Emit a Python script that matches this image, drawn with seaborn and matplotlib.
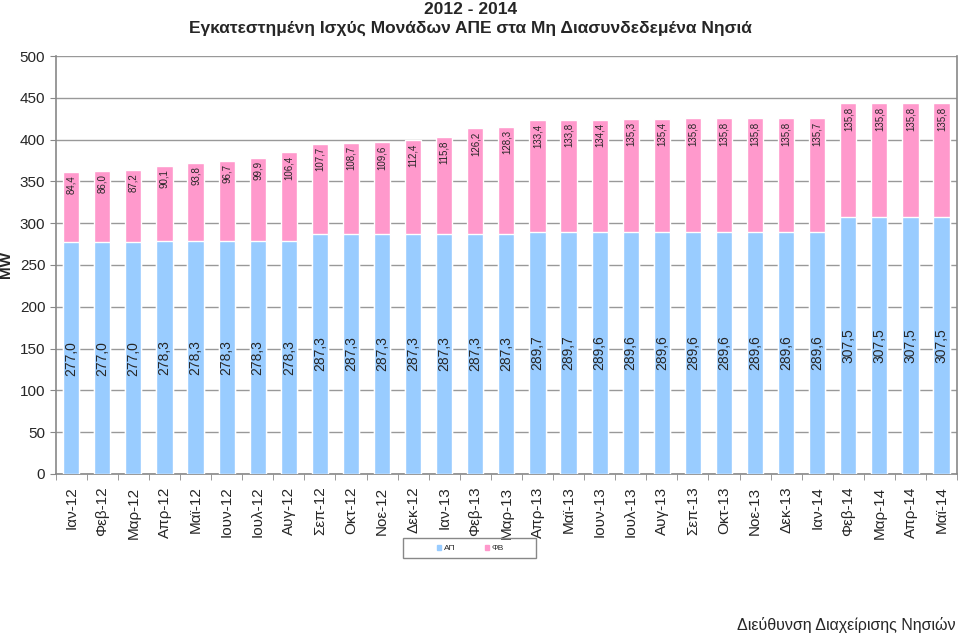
import matplotlib
matplotlib.use("Agg")
import matplotlib.pyplot as plt
import numpy as np
import pandas as pd
import seaborn as sns

months = ["Ιαν-12", "Φεβ-12", "Μαρ-12", "Απρ-12", "Μαϊ-12", "Ιουν-12", "Ιουλ-12",
          "Αυγ-12", "Σεπ-12", "Οκτ-12", "Νοε-12", "Δεκ-12", "Ιαν-13", "Φεβ-13",
          "Μαρ-13", "Απρ-13", "Μαϊ-13", "Ιουν-13", "Ιουλ-13", "Αυγ-13", "Σεπ-13",
          "Οκτ-13", "Νοε-13", "Δεκ-13", "Ιαν-14", "Φεβ-14", "Μαρ-14", "Απρ-14",
          "Μαϊ-14"]
ap = [277.0, 277.0, 277.0, 278.3, 278.3, 278.3, 278.3, 278.3, 287.3, 287.3,
      287.3, 287.3, 287.3, 287.3, 287.3, 289.7, 289.7, 289.6, 289.6, 289.6,
      289.6, 289.6, 289.6, 289.6, 289.6, 307.5, 307.5, 307.5, 307.5]
fv = [84.4, 86.0, 87.2, 90.1, 93.8, 96.7, 99.9, 106.4, 107.7, 108.7,
      109.6, 112.4, 115.8, 126.2, 128.3, 133.4, 133.8, 134.4, 135.3, 135.4,
      135.8, 135.8, 135.8, 135.8, 135.7, 135.8, 135.8, 135.8, 135.8]

BLUE = "#99CCFF"
PINK = "#FF99CC"

df = pd.DataFrame({"Μήνας": months, "ΑΠ": ap, "ΦΒ": fv})
df["Σύνολο"] = df["ΑΠ"] + df["ΦΒ"]

sns.set_style("white")
plt.rcParams["font.family"] = ["Liberation Sans", "DejaVu Sans"]

fig = plt.figure(figsize=(9.6, 6.37), dpi=100)
ax = fig.add_axes([0.058, 0.256, 0.939, 0.656])

# stacked look: total in pink, AP drawn over it in blue
sns.barplot(data=df, x="Μήνας", y="Σύνολο", color=PINK, width=0.52,
            saturation=1, ax=ax, zorder=2)
sns.barplot(data=df, x="Μήνας", y="ΑΠ", color=BLUE, width=0.52,
            saturation=1, ax=ax, zorder=3)

fmt = lambda v: f"{v:.1f}".replace(".", ",")
for i, (a, f) in enumerate(zip(ap, fv)):
    ax.text(i, a / 2, fmt(a), rotation=90, ha="center", va="center",
            fontsize=10, zorder=5)
    ax.text(i, a + f - 4, fmt(f), rotation=90, ha="center", va="top",
            fontsize=7, zorder=5)

ax.set_ylim(0, 500)
ax.set_xlim(-0.5, len(months) - 0.5)
ax.set_yticks(np.arange(0, 501, 50))
ax.yaxis.grid(True, color="#999999", linewidth=1)
ax.set_axisbelow(True)
ax.set_xlabel("")
ax.set_ylabel("MW", fontsize=11, fontweight="bold")
ax.yaxis.set_label_coords(-0.047, 0.5)
ax.tick_params(axis="y", labelsize=11, length=4, color="#888888", direction="out", left=True)
ax.set_xticks(range(len(months)))
ax.set_xticklabels(months, rotation=90, fontsize=11)
ax.set_xticks(np.arange(-0.5, len(months), 1), minor=True)
ax.tick_params(axis="x", which="major", length=0, pad=9)
ax.tick_params(axis="x", which="minor", length=4, color="#888888", direction="out", bottom=True)
for side in ["left", "bottom", "right"]:
    ax.spines[side].set_color("#888888")
    ax.spines[side].set_linewidth(1.2)
ax.spines["top"].set_visible(False)

fig.text(0.49, 0.997, "2012 - 2014", ha="center", va="top", fontsize=12.5, fontweight="bold")
fig.text(0.49, 0.967, "Εγκατεστημένη Ισχύς Μονάδων ΑΠΕ στα Μη Διασυνδεδεμένα Νησιά",
         ha="center", va="top", fontsize=12.5, fontweight="bold")

# legend with a separate, wider frame
fig.patches.append(plt.Rectangle((403 / 960, 79 / 637), 133 / 960, 20 / 637,
                                 transform=fig.transFigure, fill=False,
                                 edgecolor="#888888", linewidth=1))
handles = [plt.Rectangle((0, 0), 1, 1, color=BLUE), plt.Rectangle((0, 0), 1, 1, color=PINK)]
fig.legend(handles, ["ΑΠ", "ΦΒ"], loc="center", bbox_to_anchor=(0.49, 0.139), ncol=2,
           fontsize=6, frameon=False, handlelength=0.5, handleheight=0.5,
           columnspacing=3.5, handletextpad=0.3, borderaxespad=0)

fig.text(0.995, 0.006, "Διεύθυνση Διαχείρισης Νησιών", ha="right", va="bottom", fontsize=11.5)

fig.savefig("out.png", dpi=100)
